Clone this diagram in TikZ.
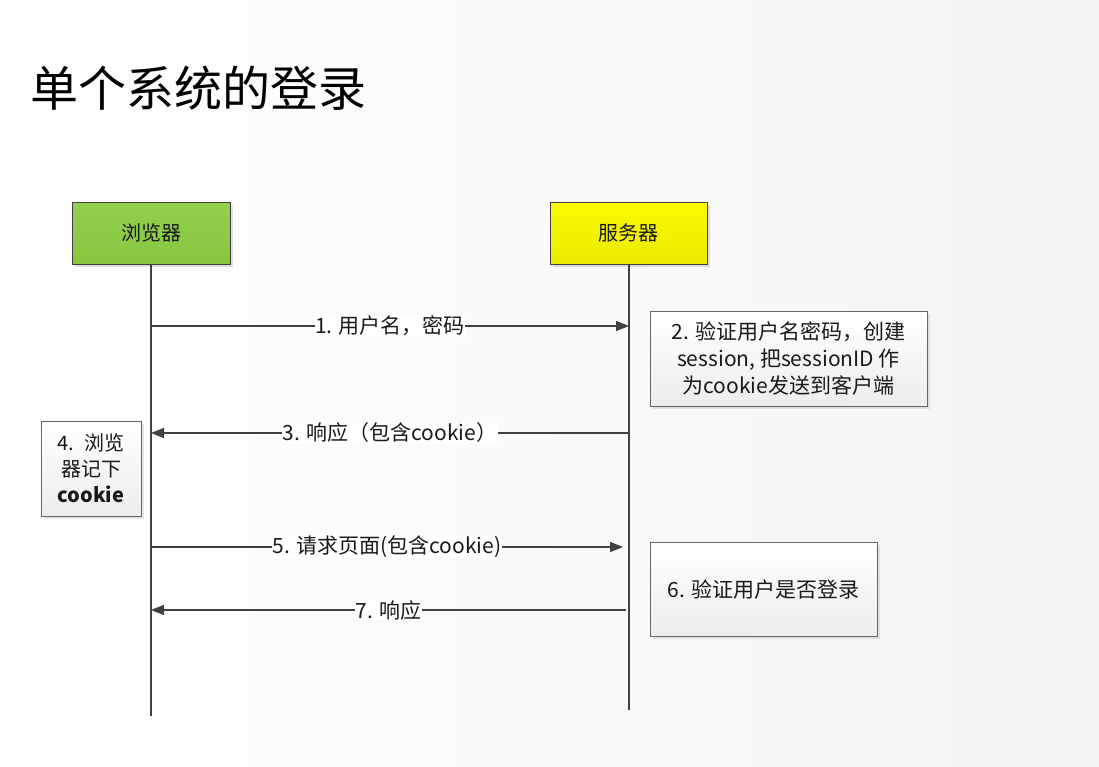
\documentclass[tikz,border=0pt]{standalone}
\usepackage{fontspec}
\setmainfont{Noto Sans CJK SC}
\usetikzlibrary{arrows.meta,shadows,calc}
\definecolor{linegray}{HTML}{404040}
\definecolor{bgright}{HTML}{F4F4F4}
\definecolor{greentop}{HTML}{92D050}
\definecolor{greenbot}{HTML}{86C73E}
\definecolor{yellowtop}{HTML}{FAFA00}
\definecolor{yellowbot}{HTML}{EAEA00}
\definecolor{boxbot}{HTML}{EDEDED}
\tikzset{
  x=1pt,y=-1pt,
  every node/.style={font=\fontsize{20}{24}\selectfont, text=black!90},
  actor/.style={draw=linegray, line width=1pt, minimum width=158pt, minimum height=62pt,
    drop shadow={shadow xshift=3pt, shadow yshift=-3pt, fill=black!25}},
  notebox/.style={draw=linegray!80, line width=0.8pt, top color=white, bottom color=boxbot,
    drop shadow={shadow xshift=3pt, shadow yshift=-3pt, fill=black!20}, align=center,
    font=\fontsize{21}{27}\selectfont},
  life/.style={draw=linegray, line width=1.5pt},
  msg/.style={draw=linegray, line width=1.3pt, -{Triangle[length=13pt,width=10pt]}},
  lbl/.style={fill=white, inner sep=0.5pt, font=\fontsize{21}{24}\selectfont},
}
\begin{document}
\begin{tikzpicture}
\shade[left color=white, right color=bgright] (0,0) rectangle (1099,766);
\useasboundingbox (0,0) rectangle (1099,766);

\node[anchor=west, font=\fontsize{48}{56}\selectfont, text=black, inner sep=0pt] (title) at (30,88) {单个系统的登录};

\node[actor, top color=greentop, bottom color=greenbot] (browser) at (151,233) {浏览器};
\node[actor, top color=yellowtop, bottom color=yellowbot, minimum width=157pt] (server) at (628.5,233) {服务器};

\coordinate (bend) at (151,716);
\coordinate (send) at (629,710);
\draw[life] (browser.south) -- (bend);
\draw[life] ($(server.south)+(0.5,0)$) -- (send);

% message 1
\coordinate (b1) at (151,326);
\coordinate (s1) at (629,326);
\draw[msg] (b1) -- node[lbl] (m1) {1. 用户名，密码} (s1);

\node[notebox, minimum width=277pt, minimum height=95pt] (n2) at (788.5,358.5) {2. 验证用户名密码，创建\\session, 把sessionID 作\\为cookie发送到客户端};

% message 3
\coordinate (s3) at (629,433);
\coordinate (b3) at (151,433);
\draw[msg] (s3) -- node[lbl] (m3) {3. 响应（包含cookie）} (b3);

\node[notebox, minimum width=100pt, minimum height=95pt, text width=90pt, font=\fontsize{20}{26}\selectfont] (n4) at (91,468.5) {4. 浏览\\器记下\\\textbf{cookie}};

% message 5
\coordinate (b5) at (151,547);
\coordinate (s5) at (623,547);
\draw[msg] (b5) -- node[lbl] (m5) {5. 请求页面(包含cookie)} (s5);

\node[notebox, minimum width=227pt, minimum height=94pt] (n6) at (763.5,589) {6. 验证用户是否登录};

% message 7
\coordinate (s7) at (626,610);
\coordinate (b7) at (151,610);
\draw[msg] (s7) -- node[lbl] (m7) {7. 响应} (b7);
\end{tikzpicture}
\end{document}
